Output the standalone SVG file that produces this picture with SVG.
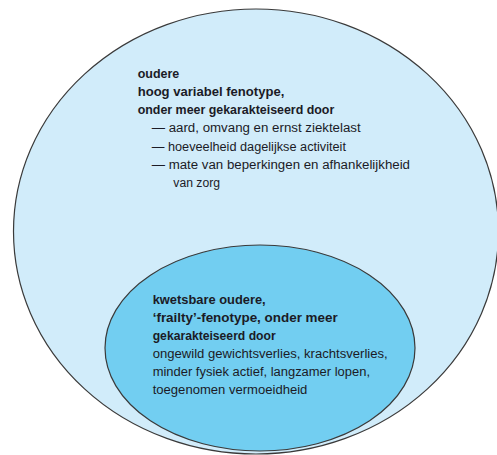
<svg xmlns="http://www.w3.org/2000/svg" width="497" height="455" viewBox="0 0 497 455">
<style>
.shape{stroke:#3a3a3a;stroke-width:1.2}
.outer{fill:#d1ecfa}
.inner{fill:#72cef1}
text{font-family:"Liberation Sans",Arial,sans-serif;font-size:12.5px;fill:#1b1b26}
.b{font-weight:bold}
</style>
<rect width="497" height="455" fill="#ffffff"/>
<g id="oudere">
<ellipse class="shape outer" cx="256" cy="231.5" rx="242.5" ry="222.5"/>
<text class="b" x="137.7" y="77.5" textLength="41.6" lengthAdjust="spacingAndGlyphs">oudere</text>
<text class="b" x="137.7" y="95.8" textLength="146.6" lengthAdjust="spacingAndGlyphs">hoog variabel fenotype,</text>
<text class="b" x="137.7" y="114" textLength="196.6" lengthAdjust="spacingAndGlyphs">onder meer gekarakteiseerd door</text>
<text x="151.7" y="132.3" textLength="209" lengthAdjust="spacingAndGlyphs">— aard, omvang en ernst ziektelast</text>
<text x="151.7" y="150.6" textLength="194.3" lengthAdjust="spacingAndGlyphs">— hoeveelheid dagelijkse activiteit</text>
<text x="151.7" y="168.9" textLength="258.3" lengthAdjust="spacingAndGlyphs">— mate van beperkingen en afhankelijkheid</text>
<text x="173.3" y="187.2" textLength="46.7" lengthAdjust="spacingAndGlyphs">van zorg</text>
</g>
<g id="kwetsbare-oudere">
<ellipse class="shape inner" cx="260" cy="348" rx="155" ry="103"/>
<text class="b" x="152.7" y="304.3" textLength="113" lengthAdjust="spacingAndGlyphs">kwetsbare oudere,</text>
<text class="b" x="152.7" y="322.3" textLength="185" lengthAdjust="spacingAndGlyphs">‘frailty’-fenotype, onder meer</text>
<text class="b" x="152.7" y="340.2" textLength="123" lengthAdjust="spacingAndGlyphs">gekarakteiseerd door</text>
<text x="152.7" y="358.3" textLength="235" lengthAdjust="spacingAndGlyphs">ongewild gewichtsverlies, krachtsverlies,</text>
<text x="152.7" y="376.3" textLength="217.3" lengthAdjust="spacingAndGlyphs">minder fysiek actief, langzamer lopen,</text>
<text x="152.7" y="394.3" textLength="154.7" lengthAdjust="spacingAndGlyphs">toegenomen vermoeidheid</text>
</g>
<g id="connectors"/>
</svg>
